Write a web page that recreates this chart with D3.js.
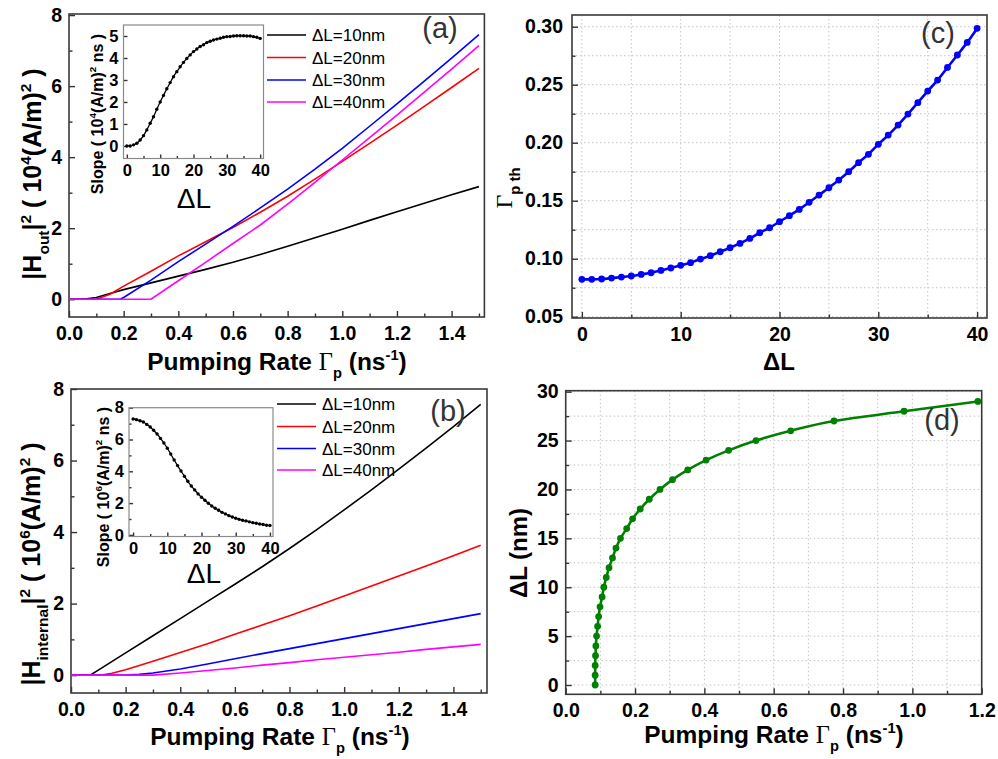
<!DOCTYPE html>
<html>
<head>
<meta charset="utf-8">
<script src="https://cdn.jsdelivr.net/npm/d3@7/dist/d3.min.js"></script>
<style>
  html, body { margin: 0; padding: 0; background: #fff; }
  svg { display: block; }
</style>
</head>
<body>
<svg id="fig" width="998" height="759"></svg>
<script>
// ---------- data ----------
// (a) output field |H_out|^2 (10^4 (A/m)^2) vs pumping rate
const outDL10 = [[0,0],[0.05,0],[0.1,0.05],[0.15,0.16],[0.2,0.27],[0.3,0.46],[0.4,0.65],[0.5,0.84],[0.6,1.04],[0.7,1.26],[0.8,1.49],[0.9,1.73],[1.0,1.97],[1.1,2.22],[1.2,2.46],[1.3,2.7],[1.4,2.94],[1.5,3.17]];
const outDL20 = [[0,0],[0.1,0],[0.15,0.14],[0.2,0.37],[0.3,0.79],[0.4,1.22],[0.5,1.62],[0.6,2.02],[0.7,2.45],[0.8,2.9],[0.9,3.38],[1.0,3.88],[1.1,4.39],[1.2,4.9],[1.3,5.43],[1.4,5.96],[1.5,6.5]];
const outDL30 = [[0,0],[0.187,0],[0.2,0.05],[0.3,0.54],[0.4,1.06],[0.5,1.55],[0.6,2.05],[0.7,2.57],[0.8,3.1],[0.9,3.66],[1.0,4.25],[1.1,4.87],[1.2,5.5],[1.3,6.14],[1.4,6.79],[1.5,7.45]];
const outDL40 = [[0,0],[0.3,0],[0.4,0.52],[0.5,1.04],[0.6,1.57],[0.7,2.09],[0.8,2.68],[0.9,3.29],[1.0,3.92],[1.1,4.55],[1.2,5.18],[1.3,5.83],[1.4,6.48],[1.5,7.14]];

// (b) internal field |H_internal|^2 (10^6 (A/m)^2) vs pumping rate
const intDL10 = [[0,0],[0.07,0],[0.1,0.14],[0.2,0.62],[0.3,1.1],[0.4,1.58],[0.5,2.06],[0.6,2.54],[0.7,3.03],[0.8,3.54],[0.9,4.07],[1.0,4.62],[1.1,5.18],[1.2,5.76],[1.3,6.35],[1.4,6.95],[1.5,7.57]];
const intDL20 = [[0,0],[0.112,0],[0.15,0.05],[0.2,0.15],[0.3,0.39],[0.4,0.63],[0.5,0.88],[0.6,1.14],[0.7,1.4],[0.8,1.66],[0.9,1.93],[1.0,2.21],[1.1,2.49],[1.2,2.77],[1.3,3.05],[1.4,3.34],[1.5,3.63]];
const intDL30 = [[0,0],[0.2,0],[0.25,0.02],[0.3,0.06],[0.4,0.17],[0.5,0.31],[0.6,0.46],[0.7,0.6],[0.8,0.74],[0.9,0.88],[1.0,1.02],[1.1,1.16],[1.2,1.3],[1.3,1.44],[1.4,1.58],[1.5,1.72]];
const intDL40 = [[0,0],[0.3,0],[0.4,0.06],[0.5,0.13],[0.6,0.2],[0.7,0.28],[0.8,0.35],[0.9,0.43],[1.0,0.5],[1.1,0.57],[1.2,0.64],[1.3,0.72],[1.4,0.79],[1.5,0.86]];

const seriesLabels = ["ΔL=10nm", "ΔL=20nm", "ΔL=30nm", "ΔL=40nm"];
const seriesColors = ["#000000", "#ff0000", "#0000ff", "#ff00ff"];

// insets: slope vs ΔL
const deltaL = [0,1,2,3,4,5,6,7,8,9,10,11,12,13,14,15,16,17,18,19,20,21,22,23,24,25,26,27,28,29,30,31,32,33,34,35,36,37,38,39,40];
const slopeOut = [0,0,0.05,0.12,0.27,0.47,0.73,1.03,1.33,1.67,2.0,2.3,2.6,2.88,3.15,3.38,3.6,3.8,3.98,4.14,4.29,4.41,4.52,4.6,4.7,4.76,4.82,4.86,4.9,4.94,4.97,4.98,5.0,5.01,5.01,5.01,5.0,5.0,4.97,4.94,4.89];
const slopeInt = [7.29,7.25,7.18,7.1,6.95,6.79,6.58,6.35,6.07,5.78,5.45,5.09,4.71,4.36,4.02,3.69,3.37,3.08,2.83,2.58,2.37,2.18,1.99,1.82,1.68,1.55,1.42,1.32,1.21,1.13,1.05,0.98,0.92,0.88,0.82,0.77,0.73,0.69,0.65,0.61,0.59];

// (c) threshold pumping rate vs ΔL
const thresholdRate = [0.0822,0.0822,0.0825,0.0833,0.0842,0.0851,0.0865,0.0879,0.0899,0.0920,0.0943,0.0966,0.0997,0.1026,0.1060,0.1095,0.1132,0.1175,0.1224,0.1267,0.1319,0.1371,0.1425,0.1486,0.1549,0.1612,0.1678,0.1750,0.1828,0.1900,0.1986,0.2066,0.2152,0.2247,0.2345,0.2445,0.2540,0.2649,0.2756,0.2865,0.2986];

// (d) ΔL (nm) reached vs pumping rate
const dLnm = [0,1,2,3,4,5,6,7,8,9,10,11,12,13,14,15,16,17,18,19,20,21,22,23,24,25,26,27,28,29];
const pumpD = [0.085,0.085,0.085,0.086,0.087,0.089,0.092,0.095,0.099,0.105,0.110,0.117,0.125,0.135,0.145,0.158,0.176,0.193,0.215,0.241,0.272,0.308,0.352,0.405,0.470,0.549,0.649,0.774,0.976,1.189];

// tick values
const pumpTicks = [0,0.2,0.4,0.6,0.8,1.0,1.2,1.4];
const pumpMinor = [0.1,0.3,0.5,0.7,0.9,1.1,1.3,1.5];
const fieldTicks = [0,2,4,6,8];
const fieldMinor = [1,3,5,7];
const insetDLTicks = [0,10,20,30,40];
const insetDLMinor = [5,15,25,35];
const slopeOutTicks = [0,1,2,3,4,5];
const slopeIntTicks = [0,2,4,6,8];
const slopeIntMinor = [1,3,5,7];
const cXTicks = [0,10,20,30,40];
const cXMinor = [5,15,25,35];
const cYTicks = [0.05,0.10,0.15,0.20,0.25,0.30];
const cYMinor = [0.075,0.125,0.175,0.225,0.275];
const dXTicks = [0,0.2,0.4,0.6,0.8,1.0,1.2];
const dXMinor = [0.1,0.3,0.5,0.7,0.9,1.1];
const dYTicks = [0,5,10,15,20,25,30];
const dYMinor = [2.5,7.5,12.5,17.5,22.5,27.5];

// ---------- drawing helpers ----------
const SANS = "'Liberation Sans', Arial, Helvetica, sans-serif";
const SERIF = "'Liberation Serif', 'Times New Roman', serif";
const svg = d3.select("#fig");
svg.append("rect").attr("width", 998).attr("height", 759).attr("fill", "#fff");

function richText(sel, parts, size) {
  let cur = 0;
  parts.forEach(p => {
    const ts = sel.append("tspan").text(p.t);
    let shift = 0;
    if (p.sub) shift = size * 0.32;
    if (p.sup) shift = -size * 0.42;
    ts.attr("dy", shift - cur);
    cur = shift;
    if (p.sub || p.sup) ts.attr("font-size", size * (p.scale || 0.62));
    if (p.serif) ts.attr("font-family", SERIF).attr("font-weight", "normal");
  });
}

function panel(o) {
  const x = d3.scaleLinear().domain(o.xDomain).range([o.left, o.right]);
  const y = d3.scaleLinear().domain(o.yDomain).range([o.bottom, o.top]);
  const g = svg.append("g");
  const fs = o.fontSize || 19.5;

  if (o.grid) {
    const gg = g.append("g").attr("stroke", "#c4c4c4").attr("stroke-width", 1)
      .attr("stroke-dasharray", "1.5,2.5");
    o.grid.x.forEach(v => gg.append("line").attr("x1", x(v)).attr("x2", x(v))
      .attr("y1", o.top).attr("y2", o.bottom));
    o.grid.y.forEach(v => gg.append("line").attr("y1", y(v)).attr("y2", y(v))
      .attr("x1", o.left).attr("x2", o.right));
  }

  const styleAxis = a => {
    a.select(".domain").remove();
    a.selectAll("line").attr("stroke", "#333").attr("stroke-width", 1.4);
    a.selectAll("text").attr("font-family", SANS).attr("font-weight", "bold")
      .attr("font-size", fs).attr("fill", "#000");
  };
  const maj = o.tickLen || 6, mnr = o.minorLen || 3.5;

  g.append("g").attr("transform", `translate(0,${o.bottom})`)
    .call(d3.axisBottom(x).tickValues(o.xTicks).tickSize(-maj).tickPadding(o.xPad || 9)
      .tickFormat(o.xFmt)).call(styleAxis);
  g.append("g").attr("transform", `translate(0,${o.bottom})`)
    .call(d3.axisBottom(x).tickValues(o.xMinor).tickSize(-mnr).tickFormat("")).call(styleAxis);
  g.append("g").attr("transform", `translate(${o.left},0)`)
    .call(d3.axisLeft(y).tickValues(o.yTicks).tickSize(-maj).tickPadding(o.yPad || 7)
      .tickFormat(o.yFmt)).call(styleAxis);
  g.append("g").attr("transform", `translate(${o.left},0)`)
    .call(d3.axisLeft(y).tickValues(o.yMinor).tickSize(-mnr).tickFormat("")).call(styleAxis);

  g.append("rect").attr("x", o.left).attr("y", o.top)
    .attr("width", o.right - o.left).attr("height", o.bottom - o.top)
    .attr("fill", "none").attr("stroke", o.frameColor || "#3a3a3a")
    .attr("stroke-width", o.frameWidth || 1.6);

  const clipId = "clip" + Math.random().toString(36).slice(2);
  g.append("clipPath").attr("id", clipId).append("rect")
    .attr("x", o.left).attr("y", o.top)
    .attr("width", o.right - o.left).attr("height", o.bottom - o.top);
  const plot = g.append("g").attr("clip-path", `url(#${clipId})`);
  return { x, y, g, plot };
}

const fmt1 = d3.format(".1f");
const fmt2 = d3.format(".2f");
const fmt0 = d3.format("d");

function pumpTitle(cx, cy) {
  const t = svg.append("text").attr("x", cx).attr("y", cy).attr("text-anchor", "middle")
    .attr("font-family", SANS).attr("font-weight", "bold").attr("font-size", 24.5).attr("fill", "#000");
  richText(t, [
    { t: "Pumping Rate " },
    { t: "Γ", serif: true },
    { t: "p", sub: true, scale: 0.6 },
    { t: " (ns" },
    { t: "-1", sup: true, scale: 0.6 },
    { t: ")" }
  ], 24.5);
}

function rotTitle(cx, cy, parts, size) {
  const t = svg.append("text").attr("transform", `translate(${cx},${cy}) rotate(-90)`)
    .attr("text-anchor", "middle").attr("font-family", SANS).attr("font-weight", "bold")
    .attr("font-size", size).attr("fill", "#000");
  richText(t, parts, size);
}

function panelTag(txt, cx, cy) {
  svg.append("text").attr("x", cx).attr("y", cy).attr("text-anchor", "middle")
    .attr("font-family", SANS).attr("font-size", 29).attr("fill", "#333").text(txt);
}

function legend(x0, x1, ys) {
  seriesLabels.forEach((lab, i) => {
    svg.append("line").attr("x1", x0).attr("x2", x1).attr("y1", ys[i]).attr("y2", ys[i])
      .attr("stroke", seriesColors[i]).attr("stroke-width", 1.6);
    svg.append("text").attr("x", x1 + 6).attr("y", ys[i]).attr("dy", "0.36em")
      .attr("font-family", SANS).attr("font-size", 17).attr("fill", "#000").text(lab);
  });
}

function fieldLines(p, list) {
  const line = d3.line().x(d => p.x(d[0])).y(d => p.y(d[1]));
  list.forEach((s, i) => {
    p.plot.append("path").datum(s).attr("d", line).attr("fill", "none")
      .attr("stroke", seriesColors[i]).attr("stroke-width", 1.6);
  });
}

function inset(o, values) {
  const p = panel(Object.assign({ fontSize: 16.5, tickLen: 4, minorLen: 2.5, xPad: 6, yPad: 5,
    frameColor: "#8a8a8a", frameWidth: 1.2 }, o));
  const line = d3.line().x((d, i) => p.x(deltaL[i])).y(d => p.y(d)).curve(d3.curveMonotoneX);
  p.plot.append("path").datum(values).attr("d", line).attr("fill", "none")
    .attr("stroke", "#000").attr("stroke-width", 1.3);
  p.plot.selectAll("circle").data(values).join("circle")
    .attr("cx", (d, i) => p.x(deltaL[i])).attr("cy", d => p.y(d)).attr("r", 1.7).attr("fill", "#000");
  return p;
}

// ---------- (a) ----------
const pa = panel({ left: 69, right: 484.4, top: 14, bottom: 317,
  xDomain: [0, 1.52], yDomain: [-0.5, 8.03],
  xTicks: pumpTicks, xMinor: pumpMinor, yTicks: fieldTicks, yMinor: fieldMinor,
  xFmt: fmt1, yFmt: fmt0 });
fieldLines(pa, [outDL10, outDL20, outDL30, outDL40]);
legend(267, 306, [35, 57.5, 80, 102]);
panelTag("(a)", 440, 38);
pumpTitle(277, 370);
rotTitle(41, 174, [
  { t: "|H" }, { t: "out", sub: true }, { t: "|" }, { t: "2", sup: true },
  { t: " ( 10" }, { t: "4", sup: true }, { t: "(A/m)" }, { t: "2", sup: true }, { t: " )" }
], 25);

inset({ left: 123.5, right: 263.5, top: 25, bottom: 158.5,
  xDomain: [-1, 41], yDomain: [-0.57, 5.5],
  xTicks: insetDLTicks, xMinor: insetDLMinor, yTicks: slopeOutTicks, yMinor: [],
  xFmt: fmt0, yFmt: fmt0 }, slopeOut);
rotTitle(103, 114, [
  { t: "Slope ( 10" }, { t: "4", sup: true }, { t: "(A/m)" }, { t: "2", sup: true }, { t: " ns )" }
], 16);
svg.append("text").attr("x", 194).attr("y", 208).attr("text-anchor", "middle")
  .attr("font-family", SANS).attr("font-size", 28).attr("fill", "#000").text("ΔL");

// ---------- (b) ----------
const pb = panel({ left: 71, right: 487, top: 389, bottom: 693,
  xDomain: [0, 1.523], yDomain: [-0.5, 8],
  xTicks: pumpTicks, xMinor: pumpMinor, yTicks: fieldTicks, yMinor: fieldMinor,
  xFmt: fmt1, yFmt: fmt0 });
fieldLines(pb, [intDL10, intDL20, intDL30, intDL40]);
legend(277, 316, [404, 426.5, 448.5, 470]);
panelTag("(b)", 448, 421);
pumpTitle(280, 745);
rotTitle(40, 564, [
  { t: "|H" }, { t: "internal", sub: true }, { t: "|" }, { t: "2", sup: true },
  { t: " ( 10" }, { t: "6", sup: true }, { t: "(A/m)" }, { t: "2", sup: true }, { t: " )" }
], 25);

inset({ left: 129, right: 273, top: 407.7, bottom: 536.5,
  xDomain: [-1.2, 40.9], yDomain: [-0.1, 8],
  xTicks: insetDLTicks, xMinor: insetDLMinor, yTicks: slopeIntTicks, yMinor: slopeIntMinor,
  xFmt: fmt0, yFmt: fmt0 }, slopeInt);
rotTitle(109, 487, [
  { t: "Slope ( 10" }, { t: "6", sup: true }, { t: "(A/m)" }, { t: "2", sup: true }, { t: " ns )" }
], 16);
svg.append("text").attr("x", 204).attr("y", 583).attr("text-anchor", "middle")
  .attr("font-family", SANS).attr("font-size", 28).attr("fill", "#000").text("ΔL");

// ---------- (c) ----------
const pc = panel({ left: 572, right: 987, top: 15, bottom: 318,
  xDomain: [-1, 41], yDomain: [0.0489, 0.3101],
  xTicks: cXTicks, xMinor: cXMinor, yTicks: cYTicks, yMinor: cYMinor,
  xFmt: fmt0, yFmt: fmt2, yPad: 9,
  grid: { x: cXTicks.concat(cXMinor), y: cYTicks.concat(cYMinor) } });
{
  const line = d3.line().x((d, i) => pc.x(deltaL[i])).y(d => pc.y(d)).curve(d3.curveMonotoneX);
  pc.plot.append("path").datum(thresholdRate).attr("d", line).attr("fill", "none")
    .attr("stroke", "#0000ff").attr("stroke-width", 2.6);
  pc.plot.selectAll("circle").data(thresholdRate).join("circle")
    .attr("cx", (d, i) => pc.x(deltaL[i])).attr("cy", d => pc.y(d)).attr("r", 3.4).attr("fill", "#0000ff");
}
panelTag("(c)", 938, 43);
svg.append("text").attr("x", 779).attr("y", 370).attr("text-anchor", "middle")
  .attr("font-family", SANS).attr("font-weight", "bold").attr("font-size", 24).attr("fill", "#000").text("ΔL");
{
  const t = svg.append("text").attr("transform", "translate(512,188) rotate(-90)")
    .attr("text-anchor", "middle").attr("font-family", SANS).attr("font-weight", "bold")
    .attr("font-size", 24).attr("fill", "#000");
  richText(t, [{ t: "Γ", serif: true }, { t: "p th", sub: true, scale: 0.62 }], 24);
}

// ---------- (d) ----------
const pd = panel({ left: 565.7, right: 981.7, top: 390.7, bottom: 694.3,
  xDomain: [0, 1.2], yDomain: [-0.95, 30.1],
  xTicks: dXTicks, xMinor: dXMinor, yTicks: dYTicks, yMinor: dYMinor,
  xFmt: fmt1, yFmt: fmt0,
  grid: { x: dXTicks.concat(dXMinor), y: dYTicks.concat(dYMinor) } });
{
  const pts = pumpD.map((v, i) => [v, dLnm[i]]);
  const line = d3.line().x(d => pd.x(d[0])).y(d => pd.y(d[1])).curve(d3.curveMonotoneY);
  pd.plot.append("path").datum(pts).attr("d", line).attr("fill", "none")
    .attr("stroke", "#008000").attr("stroke-width", 2.6);
  pd.plot.selectAll("circle").data(pts).join("circle")
    .attr("cx", d => pd.x(d[0])).attr("cy", d => pd.y(d[1])).attr("r", 3.4).attr("fill", "#008000");
}
panelTag("(d)", 942, 430);
pumpTitle(774, 743);
rotTitle(527, 553, [{ t: "ΔL (nm)" }], 24);
</script>
</body>
</html>
